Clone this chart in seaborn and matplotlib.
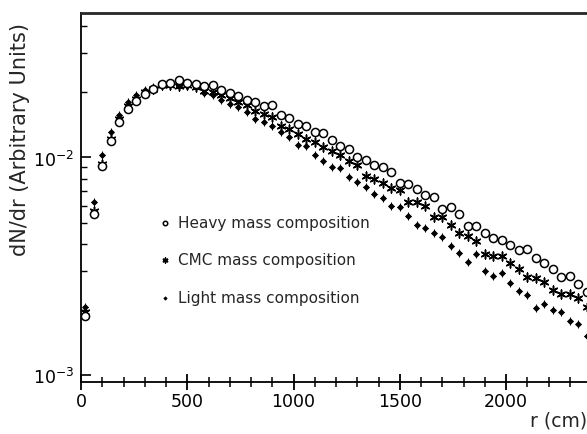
import numpy as np
import pandas as pd
import matplotlib
matplotlib.use('Agg')
import matplotlib.pyplot as plt
import seaborn as sns
from matplotlib.ticker import LogLocator, NullFormatter, FixedLocator

# radial bin centres (cm)
r = [20, 60, 100, 140, 180, 220, 260, 300, 340, 380,
     420, 460, 500, 540, 580, 620, 660, 700, 740, 780,
     820, 860, 900, 940, 980, 1020, 1060, 1100, 1140, 1180,
     1220, 1260, 1300, 1340, 1380, 1420, 1460, 1500, 1540, 1580,
     1620, 1660, 1700, 1740, 1780, 1820, 1860, 1900, 1940, 1980,
     2020, 2060, 2100, 2140, 2180, 2220, 2260, 2300, 2340, 2380]

# dN/dr in units of 1e-3
heavy = [1.88, 5.50, 9.14, 11.90, 14.55, 16.69, 18.16, 19.56, 20.62, 21.74,
         21.96, 22.67, 21.96, 21.74, 21.28, 21.51, 20.40, 19.76, 19.15, 18.36,
         17.97, 17.23, 17.41, 15.67, 15.18, 14.24, 13.95, 13.09, 12.95, 12.03,
         11.29, 10.94, 10.05, 9.74, 9.24, 9.05, 8.58, 7.64, 7.56, 7.17,
         6.73, 6.59, 5.80, 5.93, 5.50, 4.85, 4.85, 4.51, 4.27, 4.18,
         3.97, 3.76, 3.80, 3.46, 3.28, 3.08, 2.83, 2.86, 2.63, 2.42]

cmc = [1.96, 5.68, 9.34, 12.16, 15.02, 17.23, 18.55, 19.97, 20.62, 21.51,
       21.51, 21.28, 21.51, 21.06, 20.19, 19.97, 19.35, 18.75, 17.97, 17.41,
       16.34, 15.83, 15.34, 13.95, 13.51, 12.82, 12.16, 11.78, 11.17, 10.71,
       10.27, 9.64, 9.24, 8.22, 7.97, 7.64, 7.25, 7.10, 6.25, 6.25,
       5.99, 5.33, 5.33, 4.90, 4.51, 4.37, 4.14, 3.61, 3.53, 3.53,
       3.28, 3.08, 2.83, 2.80, 2.68, 2.47, 2.37, 2.37, 2.27, 2.06]

light = [2.06, 6.25, 10.27, 13.09, 15.67, 17.97, 19.35, 20.40, 21.06, 21.74,
         21.51, 21.28, 21.28, 21.06, 19.76, 19.35, 18.36, 17.60, 17.05, 16.17,
         15.02, 14.55, 13.95, 13.09, 12.42, 11.41, 11.29, 10.27, 9.64, 9.05,
         8.95, 8.14, 7.72, 7.32, 6.80, 6.52, 5.99, 5.93, 5.39, 4.90,
         4.75, 4.51, 4.32, 3.93, 3.65, 3.32, 3.61, 3.02, 2.86, 2.96,
         2.66, 2.44, 2.34, 2.04, 2.13, 2.00, 1.96, 1.78, 1.72, 1.52]

labels = ['Heavy mass composition', 'CMC mass composition', 'Light mass composition']

df = pd.DataFrame({'r': r,
                   'heavy': np.array(heavy) * 1e-3,
                   'cmc': np.array(cmc) * 1e-3,
                   'light': np.array(light) * 1e-3})

sns.set_style('ticks')
plt.rcParams['font.family'] = ['DejaVu Sans']
plt.rcParams['mathtext.fontset'] = 'dejavusans'

fig = plt.figure(figsize=(5.87, 4.35), dpi=100)
ax = fig.add_axes([81 / 587, 1 - 383 / 435, 506 / 587, 369 / 435])

# light: small filled diamonds with error bars
ax.errorbar(df['r'], df['light'], yerr=df['light'] * 0.045, xerr=12,
            fmt='none', ecolor='black', elinewidth=0.7, capsize=0, zorder=2)
sns.scatterplot(data=df, x='r', y='light', ax=ax, marker='D', s=9,
                color='black', edgecolor='black', linewidth=0.6,
                label=labels[2], zorder=3)
# cmc: asterisks
sns.scatterplot(data=df, x='r', y='cmc', ax=ax, marker=(6, 2, 0), s=40,
                color='black', linewidth=1.1, label=labels[1], zorder=3)
# heavy: open circles
sns.scatterplot(data=df, x='r', y='heavy', ax=ax, marker='o', s=34,
                facecolor='white', edgecolor='black', linewidth=1.1,
                label=labels[0], zorder=4)

ax.set_yscale('log')
ax.set_xlim(0, 2380)
ax.set_ylim(9.33e-4, 0.046)

ax.xaxis.set_major_locator(FixedLocator([0, 500, 1000, 1500, 2000]))
ax.xaxis.set_minor_locator(FixedLocator(list(range(100, 2400, 100))))
ax.yaxis.set_major_locator(FixedLocator([1e-3, 1e-2]))
ax.yaxis.set_minor_locator(LogLocator(base=10, subs=np.arange(2, 10), numticks=20))
ax.yaxis.set_minor_formatter(NullFormatter())
ax.xaxis.set_minor_formatter(NullFormatter())
ax.set_yticklabels(['$10^{-3}$', '$10^{-2}$'])

ax.tick_params(axis='y', which='both', direction='in', colors='black',
               left=True, right=False, labelsize=12.5)
ax.tick_params(axis='x', which='both', direction='inout', colors='black',
               bottom=True, top=True, labelsize=12.5)
ax.tick_params(axis='y', which='major', length=7, width=1.2, pad=5)
ax.tick_params(axis='y', which='minor', length=4, width=1.0)
ax.tick_params(axis='x', which='major', length=11, width=1.3, pad=2)
ax.tick_params(axis='x', which='minor', length=6.5, width=1.1)

# keep the top spine plain
for t in ax.xaxis.get_major_ticks() + ax.xaxis.get_minor_ticks():
    t.tick2line.set_visible(False)
    t.tick2line.set_markersize(0)

for side in ['left', 'bottom']:
    ax.spines[side].set_linewidth(1.3)
    ax.spines[side].set_color('black')
ax.spines['top'].set_visible(True)
ax.spines['top'].set_linewidth(2)
ax.spines['right'].set_visible(False)

ax.set_xlabel('r (cm)', fontsize=13.5, loc='right', labelpad=0)
ax.set_ylabel('dN/dr (Arbitrary Units)', fontsize=15)
ax.yaxis.set_label_coords(-0.10, 0.66)

handles, labs = ax.get_legend_handles_labels()
order = [labs.index(l) for l in labels]
leg = ax.legend([handles[i] for i in order], [labs[i] for i in order],
                loc='center left', bbox_to_anchor=(0.15, 0.331),
                frameon=False, fontsize=11, labelspacing=1.45,
                handlelength=1.0, handletextpad=0.4, borderpad=0,
                borderaxespad=0, markerscale=0.55)

fig.savefig('out.png', dpi=100)
